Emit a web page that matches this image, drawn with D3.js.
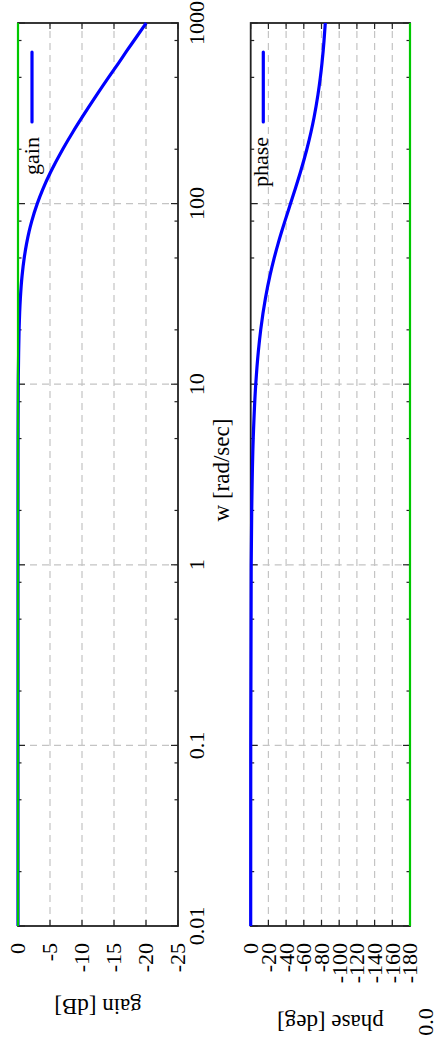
<!DOCTYPE html>
<html>
<head>
<meta charset="utf-8">
<script src="https://cdn.jsdelivr.net/npm/d3@7"></script>
<style>
  html, body { margin: 0; padding: 0; background: #fff; }
  svg { display: block; }
</style>
</head>
<body>
<svg id="chart" width="437" height="1041"></svg>
<script>
// ---- data ----
const freq = [0.01, 0.1, 1, 2, 5, 10, 15, 20, 30, 40, 50, 60, 70, 80, 100, 120, 150, 200, 250, 300, 400, 500, 600, 700, 800, 1000];
const gainDb = [0, 0, 0, 0, -0.01, -0.04, -0.1, -0.17, -0.37, -0.64, -0.97, -1.34, -1.73, -2.15, -3.01, -3.87, -5.12, -6.99, -8.6, -10.0, -12.3, -14.15, -15.71, -16.99, -18.13, -20.04];
const phaseDeg = [0, -0.06, -0.57, -1.15, -2.86, -5.71, -8.53, -11.31, -16.7, -21.8, -26.57, -30.96, -34.99, -38.66, -45.0, -50.19, -56.31, -63.43, -68.2, -71.57, -75.96, -78.69, -80.54, -81.87, -82.87, -84.29];
const freqTicks = [0.01, 0.1, 1, 10, 100, 1000];
const freqTickLabels = ["0.01", "0.1", "1", "10", "100", "1000"];
const minorMultipliers = [2, 5, 8];
const gainTicks = [0, -5, -10, -15, -20, -25];
const phaseTicks = [0, -20, -40, -60, -80, -100, -120, -140, -160, -180];
const gainLegend = "gain";
const phaseLegend = "phase";
const xLabel = "w [rad/sec]";
const gainLabel = "gain [dB]";
const phaseLabel = "phase [deg]";
const phaseXLabel = "0.0";

// ---- drawing (chart laid out landscape 1041x437, then rotated) ----
const FONT = "'Liberation Serif', 'Times New Roman', Tinos, 'DejaVu Serif', serif";
const W = 1041;
const svg = d3.select("#chart");
const g = svg.append("g").attr("transform", `translate(0,${W}) rotate(-90)`)
  .attr("font-family", FONT);

const x = d3.scaleLog().domain([0.01, 1000]).range([115, 1018]);
const yG = d3.scaleLinear().domain([0, -25]).range([18, 178]);
const yP = d3.scaleLinear().domain([0, -180]).range([250.7, 410]);

const FS = 22;
const gridColor = "#c4c4c4";
const minorTicks = [];
freqTicks.slice(0, -1).forEach(d => minorMultipliers.forEach(m => minorTicks.push(d * m)));

function panel(y, levels, values, greenLevel, greenOnTop) {
  const [y0, y1] = y.range();
  const [x0, x1] = x.range();
  const pg = g.append("g");
  pg.selectAll(".gl").data(levels.slice(1, -1)).enter().append("line")
    .attr("x1", x0).attr("x2", x1).attr("y1", d => y(d)).attr("y2", d => y(d))
    .attr("stroke", gridColor).attr("stroke-width", 1.2).attr("stroke-dasharray", "7,5");
  pg.selectAll(".gd").data(freqTicks.slice(1, -1)).enter().append("line")
    .attr("x1", d => x(d)).attr("x2", d => x(d)).attr("y1", y0).attr("y2", y1)
    .attr("stroke", gridColor).attr("stroke-width", 1.2).attr("stroke-dasharray", "7,5");
  levels.forEach(v => {
    pg.append("line").attr("x1", x0).attr("x2", x0 + 6).attr("y1", y(v)).attr("y2", y(v)).attr("stroke", "#222").attr("stroke-width", 1.2);
    pg.append("line").attr("x1", x1).attr("x2", x1 - 6).attr("y1", y(v)).attr("y2", y(v)).attr("stroke", "#222").attr("stroke-width", 1.2);
  });
  freqTicks.forEach(f => {
    pg.append("line").attr("x1", x(f)).attr("x2", x(f)).attr("y1", y0).attr("y2", y0 + 7).attr("stroke", "#222").attr("stroke-width", 1.2);
    pg.append("line").attr("x1", x(f)).attr("x2", x(f)).attr("y1", y1).attr("y2", y1 - 7).attr("stroke", "#222").attr("stroke-width", 1.2);
  });
  minorTicks.forEach(f => {
    pg.append("line").attr("x1", x(f)).attr("x2", x(f)).attr("y1", y0).attr("y2", y0 + 3.5).attr("stroke", "#222").attr("stroke-width", 1.2);
    pg.append("line").attr("x1", x(f)).attr("x2", x(f)).attr("y1", y1).attr("y2", y1 - 3.5).attr("stroke", "#222").attr("stroke-width", 1.2);
  });
  pg.append("rect").attr("x", x0).attr("y", y0).attr("width", x1 - x0).attr("height", y1 - y0)
    .attr("fill", "none").attr("stroke", "#222").attr("stroke-width", 1.8);
  const drawGreen = () => pg.append("line").attr("x1", x0).attr("x2", x1)
    .attr("y1", y(greenLevel)).attr("y2", y(greenLevel))
    .attr("stroke", "#00c800").attr("stroke-width", 2.2);
  if (!greenOnTop) drawGreen();
  const line = d3.line().x((d, i) => x(freq[i])).y(d => y(d)).curve(d3.curveMonotoneX);
  pg.append("path").attr("d", line(values)).attr("fill", "none")
    .attr("stroke", "#0000ff").attr("stroke-width", 3.2).attr("stroke-linejoin", "round");
  if (greenOnTop) drawGreen();
  pg.selectAll(".lt").data(levels).enter().append("text")
    .attr("x", 98).attr("y", d => y(d)).attr("dy", "0.34em")
    .attr("text-anchor", "end").attr("font-size", FS).attr("font-family", FONT).text(d => d);
  return pg;
}

panel(yG, gainTicks, gainDb, 0, true);
panel(yP, phaseTicks, phaseDeg, -180, false);

g.selectAll(".ft").data(freqTicks).enter().append("text")
  .attr("x", d => x(d)).attr("y", 204).attr("text-anchor", "middle")
  .attr("font-size", FS).attr("font-family", FONT).text((d, i) => freqTickLabels[i]);

g.append("text").attr("x", 19).attr("y", 433).attr("text-anchor", "middle")
  .attr("font-size", FS).attr("font-family", FONT).text(phaseXLabel);

g.append("text").attr("x", 571).attr("y", 229).attr("text-anchor", "middle")
  .attr("font-size", FS + 1).attr("font-family", FONT).text(xLabel);

g.append("text").attr("transform", `translate(42,${(yG.range()[0] + yG.range()[1]) / 2}) rotate(-90)`)
  .attr("text-anchor", "middle").attr("font-size", FS + 1).attr("font-family", FONT).text(gainLabel);
g.append("text").attr("transform", `translate(26,${(yP.range()[0] + yP.range()[1]) / 2}) rotate(-90)`)
  .attr("text-anchor", "middle").attr("font-size", FS + 1).attr("font-family", FONT).text(phaseLabel);

[[gainLegend, 32, 39], [phaseLegend, 263.3, 268]].forEach(([t, ly, ty]) => {
  g.append("line").attr("x1", 919).attr("x2", 989).attr("y1", ly).attr("y2", ly)
    .attr("stroke", "#0000ff").attr("stroke-width", 3.2).attr("stroke-linecap", "round");
  g.append("text").attr("x", 904).attr("y", ty).attr("text-anchor", "end")
    .attr("font-size", FS).attr("font-family", FONT).text(t);
});
</script>
</body>
</html>
